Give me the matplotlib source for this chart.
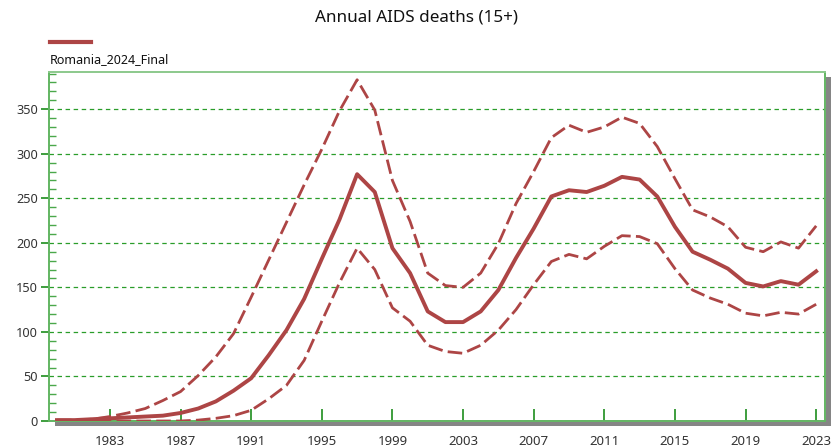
import matplotlib
matplotlib.use("Agg")
import matplotlib.pyplot as plt
from matplotlib.patches import Rectangle
from matplotlib.lines import Line2D
from matplotlib.ticker import NullLocator
import numpy as np

plt.rcParams['font.family'] = ['Noto Sans', 'DejaVu Sans']
plt.rcParams['lines.scale_dashes'] = False

years = list(range(1980, 2024))

deaths_mid = [1, 1, 2, 3, 4, 5, 6, 9, 14, 22, 34, 48, 74, 102, 137, 182, 226, 277,
              257, 194, 166, 123, 111, 111, 123, 147, 183, 216, 252, 259, 257, 264,
              274, 271, 252, 218, 190, 181, 171, 155, 151, 157, 153, 168]

deaths_high = [1, 1, 2, 5, 9, 14, 23, 33, 51, 72, 98, 139, 181, 223, 265, 305, 348, 383,
               349, 270, 224, 166, 152, 150, 166, 199, 244, 280, 318, 332, 324, 330,
               341, 334, 308, 272, 237, 229, 218, 195, 190, 201, 194, 219]

deaths_low = [0, 0, 0, 0, 0, 0, 0, 0, 1, 3, 6, 12, 25, 40, 68, 112, 155, 194,
              170, 127, 112, 85, 78, 76, 85, 102, 125, 153, 179, 187, 182, 196,
              208, 207, 199, 171, 147, 138, 131, 121, 118, 122, 120, 131]

x_ticks = list(range(1983, 2024, 4))
y_ticks = list(range(0, 351, 50))

title = "Annual AIDS deaths (15+)"
series_name = "Romania_2024_Final"

LINE = "#ad4545"
GRID = "#2a9d2a"
SPINE = "#62b562"
TEXT = "#333333"

W, H = 833, 447
fig = plt.figure(figsize=(W / 100, H / 100), dpi=100)
ax_l, ax_r, ax_t, ax_b = 49, 825, 72, 421
ax = fig.add_axes([ax_l / W, 1 - ax_b / H, (ax_r - ax_l) / W, (ax_b - ax_t) / H])

ax.plot(years, deaths_mid, color=LINE, lw=2.8, solid_joinstyle='round', zorder=3)
for s in (deaths_high, deaths_low):
    ln, = ax.plot(years, s, color=LINE, lw=2.0, zorder=3)
    ln.set_dashes((10.5, 3.8))

ax.set_xlim(1979.55, 2023.5)
ax.set_ylim(0, 391.7)

ax.set_xticks(x_ticks)
ax.set_xticklabels([str(v) for v in x_ticks])
ax.set_yticks(y_ticks)
ax.set_yticks(np.arange(0, 391, 10), minor=True)
ax.xaxis.set_minor_locator(NullLocator())

ax.tick_params(axis='x', direction='in', length=9, width=1.2, color='#1e8e1e',
               labelsize=9.5, labelcolor=TEXT, pad=10)
ax.tick_params(axis='y', which='major', direction='out', length=6, width=1.2,
               color='#1e8e1e', labelsize=9.2, labelcolor=TEXT, pad=2)
ax.tick_params(axis='y', which='minor', direction='in', length=5, width=1.0,
               color='#4aa84a')

ax.grid(axis='y', which='major', color=GRID, lw=0.9, linestyle=(0, (3.2, 2.6)))
ax.set_axisbelow(True)

for side in ('left', 'right', 'bottom', 'top'):
    ax.spines[side].set_color(SPINE)
    ax.spines[side].set_linewidth(1.4)
ax.spines['top'].set_color('#8cc98c')

# drop shadow along the right and bottom edges of the frame
shadow = '#858585'
fig.patches.append(Rectangle(((ax_r + 1) / W, 1 - (ax_b + 5) / H), 5 / W,
                             (ax_b - ax_t) / H, transform=fig.transFigure,
                             facecolor=shadow, edgecolor='none', zorder=0))
fig.patches.append(Rectangle(((ax_l + 6) / W, 1 - (ax_b + 5) / H), (ax_r - ax_l) / W,
                             4 / H, transform=fig.transFigure,
                             facecolor=shadow, edgecolor='none', zorder=0))

fig.text(0.5, 1 - 18 / H, title, ha='center', va='center', fontsize=12.3, color='#111111')

fig.add_artist(Line2D([50 / W, 91 / W], [1 - 42 / H, 1 - 42 / H], color=LINE, lw=3.0,
                      transform=fig.transFigure))
fig.text(50 / W, 1 - 60 / H, series_name, ha='left', va='center', fontsize=9, color='#111111')

fig.savefig("out.png", dpi=100)
